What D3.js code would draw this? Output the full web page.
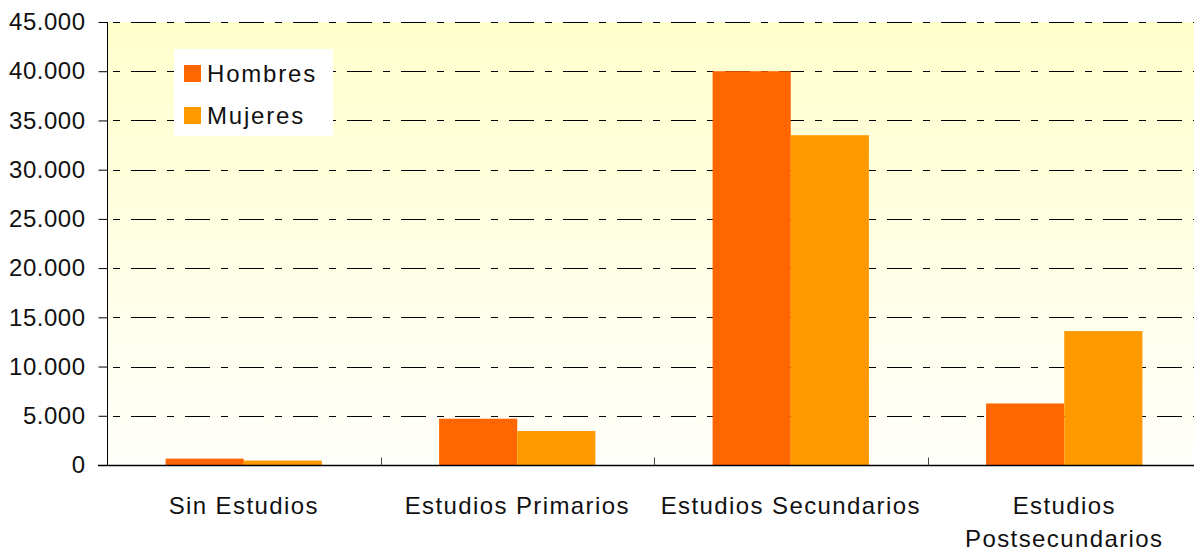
<!DOCTYPE html>
<html><head><meta charset="utf-8">
<script src="https://cdn.jsdelivr.net/npm/d3@7"></script>
<style>body{margin:0;background:#fff;} text{font-family:"Liberation Sans",Arial,sans-serif;fill:#111;}</style>
</head><body>
<svg id="c" width="1194" height="548"></svg>
<script>
const categories = [["Sin Estudios"], ["Estudios Primarios"], ["Estudios Secundarios"], ["Estudios", "Postsecundarios"]];
const seriesNames = ["Hombres", "Mujeres"];
const hombres = [650, 4700, 40000, 6250];
const mujeres = [450, 3450, 33500, 13600];
const yTicks = [0, 5000, 10000, 15000, 20000, 25000, 30000, 35000, 40000, 45000];
const colors = ["#FF6600", "#FF9900"];

const svg = d3.select("#c");
const m = {l:107, r:1201, t:22, b:465};
const catKeys = categories.map(c => c.join(" "));
const x = d3.scaleBand().domain(catKeys).range([m.l, m.r]).paddingInner(0).paddingOuter(0);
const xs = d3.scaleBand().domain(seriesNames).range([0, x.bandwidth()]).paddingInner(0).paddingOuter(0.75);
const y = d3.scaleLinear().domain([0, 45000]).range([m.b, m.t]);

const defs = svg.append("defs");
const g = defs.append("linearGradient").attr("id","bg").attr("x1",0).attr("y1",0).attr("x2",0).attr("y2",1);
g.append("stop").attr("offset","0%").attr("stop-color","#FFFFCC");
g.append("stop").attr("offset","100%").attr("stop-color","#FFFFFB");
svg.append("rect").attr("x",m.l).attr("y",m.t).attr("width",m.r-m.l).attr("height",m.b-m.t).attr("fill","url(#bg)");

// gridlines
svg.append("g").selectAll("line").data(yTicks.filter(d=>d>0)).join("line")
  .attr("x1",m.l).attr("x2",m.r).attr("y1",d=>Math.round(y(d))+0.5).attr("y2",d=>Math.round(y(d))+0.5)
  .attr("stroke","#000").attr("stroke-width",1.2).attr("stroke-dasharray","25,11,7,11").attr("stroke-dashoffset",-24);

// bars
const data = catKeys.map((c,i)=>({c, vals:[hombres[i], mujeres[i]]}));
svg.append("g").selectAll("g").data(data).join("g")
  .attr("transform",d=>`translate(${x(d.c)},0)`)
  .selectAll("rect").data(d=>d.vals.map((v,j)=>({s:seriesNames[j], v, j}))).join("rect")
  .attr("x",d=>xs(d.s)).attr("width",xs.bandwidth()).attr("y",d=>y(d.v)).attr("height",d=>m.b-y(d.v))
  .attr("fill",d=>colors[d.j]);

// y axis
const yAxis = d3.axisLeft(y).tickValues(yTicks).tickSize(9).tickPadding(13)
  .tickFormat(d => d3.format(",")(d).replace(/,/g,"."));
const ya = svg.append("g").attr("transform",`translate(${m.l+0.5},0)`).call(yAxis);
ya.select(".domain").attr("stroke","#000").attr("d",`M0,${m.t}V${m.b}`);
ya.selectAll(".tick line").attr("stroke","#000");
ya.selectAll(".tick text").attr("font-size",24).attr("letter-spacing",0.5)
  .attr("font-family","Liberation Sans, Arial, sans-serif").attr("fill","#111");

// x axis
const xa = svg.append("g").attr("transform",`translate(0,${m.b+0.5})`);
xa.append("line").attr("x1",m.l-9).attr("x2",m.r).attr("stroke","#000").attr("stroke-width",1.3);
const bounds = d3.range(catKeys.length+1).map(i => m.l + i*x.step());
xa.selectAll(".xt").data(bounds.slice(1)).join("line").attr("class","xt")
  .attr("x1",d=>Math.round(d)+0.5).attr("x2",d=>Math.round(d)+0.5).attr("y1",0).attr("y2",-8).attr("stroke","#444");
const labs = xa.selectAll(".xl").data(categories).join("text").attr("class","xl")
  .attr("text-anchor","middle").attr("font-size",24).attr("letter-spacing",1.4)
  .attr("transform",(d,i)=>`translate(${x(catKeys[i])+x.bandwidth()/2},0)`);
labs.selectAll("tspan").data(d=>d).join("tspan").attr("x",0).attr("y",(d,i)=>48.5+i*33).text(d=>d);

// legend
const lg = svg.append("g");
lg.append("rect").attr("x",174).attr("y",49).attr("width",159).attr("height",87).attr("fill","#fff");
seriesNames.forEach((s,i)=>{
  lg.append("rect").attr("x",184).attr("y",65+i*42).attr("width",17).attr("height",17).attr("fill",colors[i]);
  lg.append("text").attr("x",207).attr("y",82+i*42).attr("font-size",24).attr("letter-spacing",1.8).text(s);
});
</script>
</body></html>
